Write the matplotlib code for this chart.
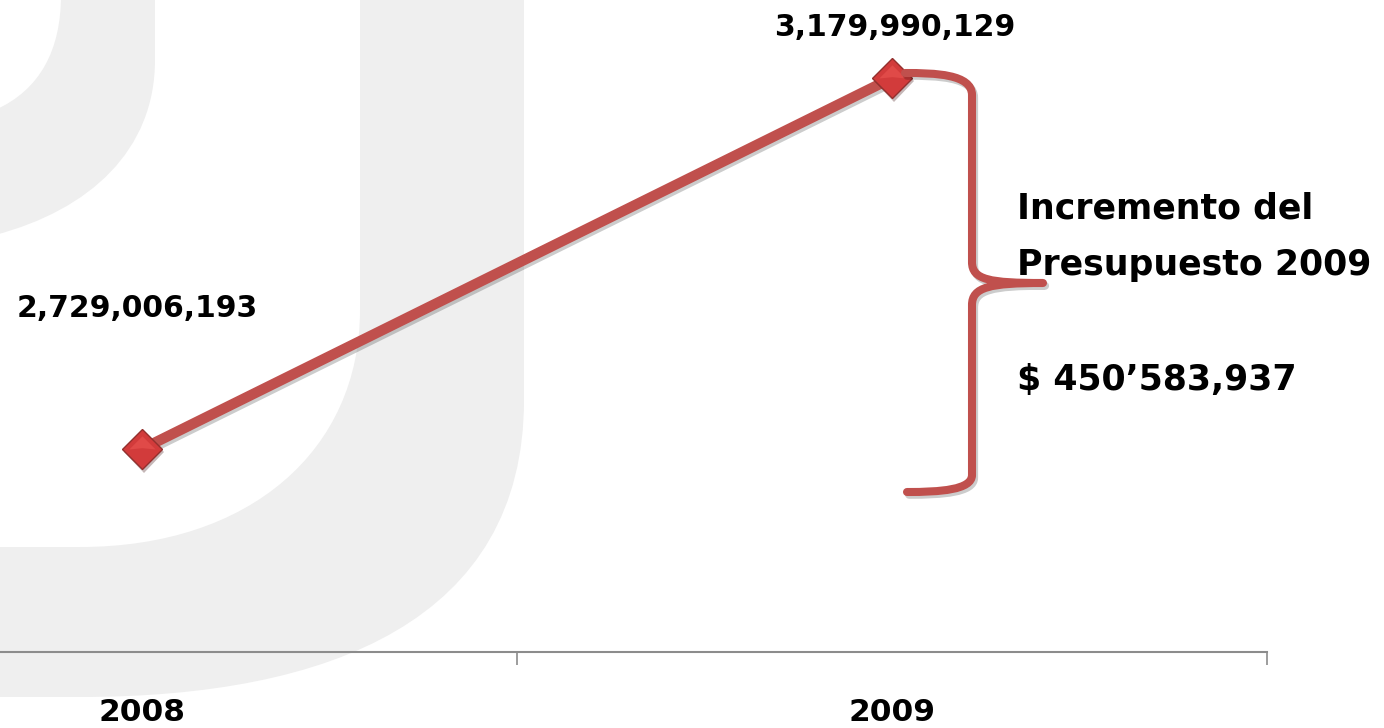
import matplotlib
matplotlib.use("Agg")
import matplotlib.pyplot as plt
import matplotlib.patheffects as pe
from matplotlib.path import Path
from matplotlib.patches import PathPatch
from matplotlib.transforms import Affine2D

# data
years = ["2008", "2009"]
budget = [2729006193, 3179990129]
budget_labels = ["2,729,006,193", "3,179,990,129"]
note_lines = ["Incremento del", "Presupuesto 2009"]
note_amount = "$ 450\u2019583,937"

W, H = 1384, 728
RED = "#C0504D"
WM = "#EFEFEF"

fig = plt.figure(figsize=(W / 100, H / 100), dpi=100)
fig.patch.set_facecolor("white")

# image-pixel coords (y down) -> figure
px = Affine2D().scale(1 / W, -1 / H).translate(0, 1) + fig.transFigure


def shape(verts, codes, **kw):
    p = PathPatch(Path(verts, codes), transform=px, **kw)
    fig.patches.append(p)
    return p


M, L, C, Z = Path.MOVETO, Path.LINETO, Path.CURVE4, Path.CLOSEPOLY

# watermark: big U corner
shape([(360, -5), (524, -5), (524, 400),
       (524, 620), (330, 697), (80, 697),
       (-5, 697), (-5, 547), (80, 547),
       (250, 547), (360, 450), (360, 310),
       (360, -5)],
      [M, L, L, C, C, C, L, L, L, C, C, C, Z],
      facecolor=WM, edgecolor="none", zorder=-2)
# watermark: top-left piece
shape([(61, -5), (155, -5), (155, 60),
       (155, 150), (90, 210), (-5, 235),
       (-5, 110), (40, 90), (61, 50), (61, -5), (61, -5)],
      [M, L, L, C, C, C, L, C, C, C, Z],
      facecolor=WM, edgecolor="none", zorder=-2)

ax = fig.add_axes([0, 76 / H, 1267 / W, 652 / H])
ax.patch.set_alpha(0)
x = list(range(len(years)))

shadow = [pe.SimpleLineShadow(offset=(1.5, -2), alpha=0.2, shadow_color="k"),
          pe.Normal()]
ax.plot(x, budget, color=RED, lw=7.5, solid_capstyle="butt",
        path_effects=shadow, zorder=3, clip_on=False)
ax.plot(x, budget, ls="none", marker="D", ms=20.5, mfc="#D23B3B",
        mec="#93302E", mew=1,
        path_effects=[pe.SimplePatchShadow(offset=(1.5, -2.5), alpha=0.3),
                      pe.Normal()],
        zorder=4, clip_on=False)
# lighter upper facets of the diamonds
ax.plot(x, budget, ls="none", marker=[(-1, 0), (0, 1), (1, 0), (0, 0.1)],
        ms=19, mfc="#E04A48", mec="none", zorder=5, clip_on=False)

ax.set_xlim(-142 / 750, 1.5)
ax.set_ylim(2.4822e9, 3.2748e9)

for s in ["top", "left", "right"]:
    ax.spines[s].set_visible(False)
ax.spines["bottom"].set_color("#8C8C8C")
ax.spines["bottom"].set_linewidth(1.5)
ax.set_yticks([])
ax.set_xticks(x)
ax.set_xticklabels(years, fontsize=22.5, fontweight="bold")
for t in ax.get_xticklabels():
    t.set_va("baseline")
ax.set_xticks([0.5, 1.5], minor=True)
ax.tick_params(axis="x", which="major", length=0, pad=50)
ax.tick_params(axis="x", which="minor", length=9.5, width=1.2, color="#8C8C8C")

# data labels
offsets = [(-5, 132), (3, 42)]
for xi, yi, lab, off in zip(x, budget, budget_labels, offsets):
    ax.annotate(lab, (xi, yi), xytext=off, textcoords="offset pixels",
                ha="center", va="baseline", fontsize=21.5, fontweight="bold",
                annotation_clip=False)

# curly brace
brace = [(905, 73), (935, 73), (972, 74), (972, 95),
         (972, 262),
         (972, 280), (990, 283), (1043, 283),
         (990, 283), (972, 287), (972, 305),
         (972, 475),
         (972, 490), (940, 492), (907, 492)]
bcodes = [M, C, C, C, L, C, C, C, C, C, C, L, C, C, C]
bp = PathPatch(Path(brace, bcodes), transform=px, facecolor="none",
               edgecolor=RED, lw=5.8, capstyle="round", joinstyle="round",
               zorder=2)
bp.set_path_effects([pe.SimpleLineShadow(offset=(1.5, -2), alpha=0.2,
                                         shadow_color="k"), pe.Normal()])
fig.patches.append(bp)

# note text
fig.text(1017 / W, 1 - 218 / H, note_lines[0], fontsize=25, fontweight="bold",
         va="baseline", ha="left")
fig.text(1017 / W, 1 - 275 / H, note_lines[1], fontsize=25, fontweight="bold",
         va="baseline", ha="left")
fig.text(1017 / W, 1 - 390 / H, note_amount, fontsize=25, fontweight="bold",
         va="baseline", ha="left")

fig.savefig("out.png", dpi=100)
